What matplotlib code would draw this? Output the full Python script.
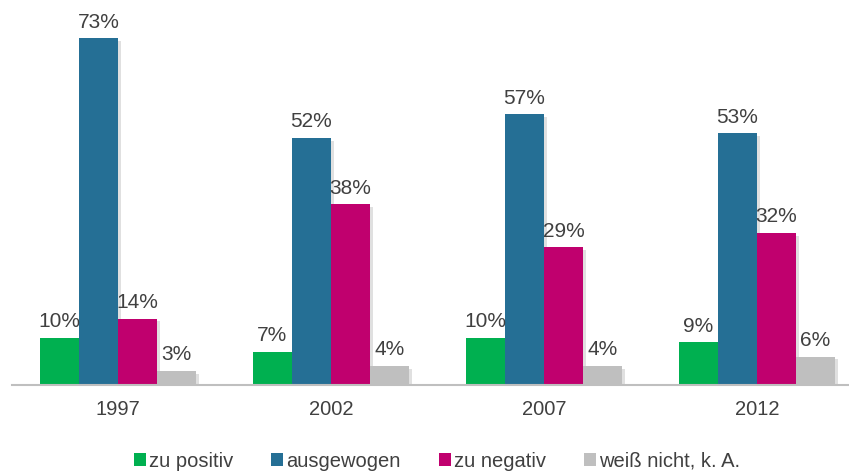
import numpy as np
import matplotlib.pyplot as plt
import matplotlib.patheffects as pe
from matplotlib.patches import Patch

plt.rcParams['font.family'] = ['Liberation Sans', 'DejaVu Sans']

years = ['1997', '2002', '2007', '2012']
series = ['zu positiv', 'ausgewogen', 'zu negativ', 'weiß nicht, k. A.']
zu_positiv = [10, 7, 10, 9]
ausgewogen = [73, 52, 57, 53]
zu_negativ = [14, 38, 29, 32]
weiss_nicht = [3, 4, 4, 6]
colors = ['#00B050', '#256F95', '#C0006E', '#BFBFBF']

values = [zu_positiv, ausgewogen, zu_negativ, weiss_nicht]

fig = plt.figure(figsize=(8.49, 4.73), dpi=100)
ax = fig.add_axes([11.5 / 849, 88 / 473, 852 / 849, 380 / 473])

x = np.arange(len(years))
w = 156 / 213 / 4
shadow = [pe.SimplePatchShadow(offset=(2, -2), shadow_rgbFace='#999999', alpha=0.3), pe.Normal()]
for i, (vals, col, name) in enumerate(zip(values, colors, series)):
    pos = x - 1.5 * w + i * w
    bars = ax.bar(pos, vals, width=w, color=col, label=name, zorder=2)
    for b in bars:
        b.set_path_effects(shadow)
    for p, v in zip(pos, vals):
        ax.text(p, v + 1.4, f'{v}%', ha='center', va='bottom', fontsize=15, color='#404040')

ax.set_xlim(-0.5, 3.5)
ax.set_ylim(0, 80)
ax.set_xticks(x)
ax.set_xticklabels(years, fontsize=14.5, color='#404040')
ax.tick_params(axis='x', length=0, pad=11)
ax.set_yticks([])
for s in ['top', 'right', 'left']:
    ax.spines[s].set_visible(False)
ax.spines['bottom'].set_color('#BFBFBF')
ax.spines['bottom'].set_linewidth(1.5)

handles = [Patch(facecolor=c, label=n) for c, n in zip(colors, series)]
fig.legend(handles=handles, loc='center', bbox_to_anchor=(437 / 849, 12 / 473), ncol=4,
           frameon=False, fontsize=14.5, handlelength=0.6, handleheight=0.6,
           handletextpad=0.15, columnspacing=1.9, labelcolor='#404040')

fig.savefig('out.png', dpi=100)
